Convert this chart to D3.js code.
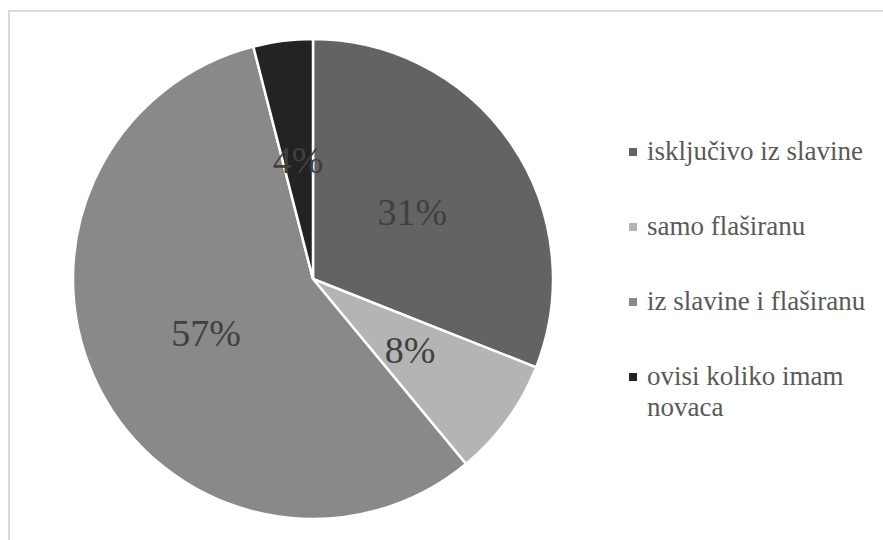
<!DOCTYPE html>
<html>
<head>
<meta charset="utf-8">
<script src="https://cdn.jsdelivr.net/npm/d3@7/dist/d3.min.js"></script>
</head>
<body style="margin:0">
<svg id="chart" width="883" height="540" font-family="Liberation Serif" style="display:block"></svg>
<script>
// Survey answers: which water do you drink
const categories = ["isključivo iz slavine", "samo flaširanu", "iz slavine i flaširanu", "ovisi koliko imam novaca"];
const values = [31, 8, 57, 4];
const colors = ["#636363", "#b4b4b4", "#898989", "#232323"];
// Legend lines (long names wrap onto a second line)
const legendLines = [["isključivo iz slavine"], ["samo flaširanu"], ["iz slavine i flaširanu"], ["ovisi koliko imam", "novaca"]];

const FONT = "Liberation Serif";
const svg = d3.select("#chart");
const W = 883, H = 540;
const cx = 313, cy = 279, radius = 240;

// chart area frame
svg.append("rect")
  .attr("x", 9).attr("y", 11)
  .attr("width", W).attr("height", H)
  .attr("fill", "none")
  .attr("stroke", "#d9d9d9")
  .attr("stroke-width", 2);

const data = categories.map((c, i) => ({ name: c, value: values[i], color: colors[i] }));

const pie = d3.pie().value(d => d.value).sort(null);
const arcs = pie(data);
const arc = d3.arc().innerRadius(0).outerRadius(radius);
const labelArc = d3.arc().innerRadius(radius * 0.5).outerRadius(radius * 0.5);

svg.selectAll("path.slice")
  .data(arcs)
  .enter().append("path")
  .attr("class", "slice")
  .attr("transform", `translate(${cx},${cy})`)
  .attr("d", arc)
  .attr("fill", d => d.data.color)
  .attr("stroke", "#ffffff")
  .attr("stroke-width", 2.5);

// percentage labels, placed halfway out along each slice
svg.selectAll("text.pct")
  .data(arcs)
  .enter().append("text")
  .attr("class", "pct")
  .attr("x", d => cx + labelArc.centroid(d)[0])
  .attr("y", d => cy + labelArc.centroid(d)[1] + 13)
  .attr("text-anchor", "middle")
  .attr("font-family", FONT)
  .attr("font-size", 38)
  .attr("fill", "#404040")
  .text(d => d.data.value + "%");

// legend
const lx = 629, ly = 152, rowGap = 75;

svg.selectAll("rect.key")
  .data(data)
  .enter().append("rect")
  .attr("class", "key")
  .attr("x", lx).attr("y", (d, i) => ly + i * rowGap - 4)
  .attr("width", 8).attr("height", 8)
  .attr("fill", d => d.color);

const lines = [];
legendLines.forEach((ls, i) => ls.forEach((t, j) => lines.push({ t, y: ly + i * rowGap + 8 + j * 31 })));

svg.selectAll("text.leg")
  .data(lines)
  .enter().append("text")
  .attr("class", "leg")
  .attr("x", lx + 18)
  .attr("y", d => d.y)
  .attr("font-family", FONT)
  .attr("font-size", 27)
  .attr("fill", "#595959")
  .text(d => d.t);
</script>
</body>
</html>
